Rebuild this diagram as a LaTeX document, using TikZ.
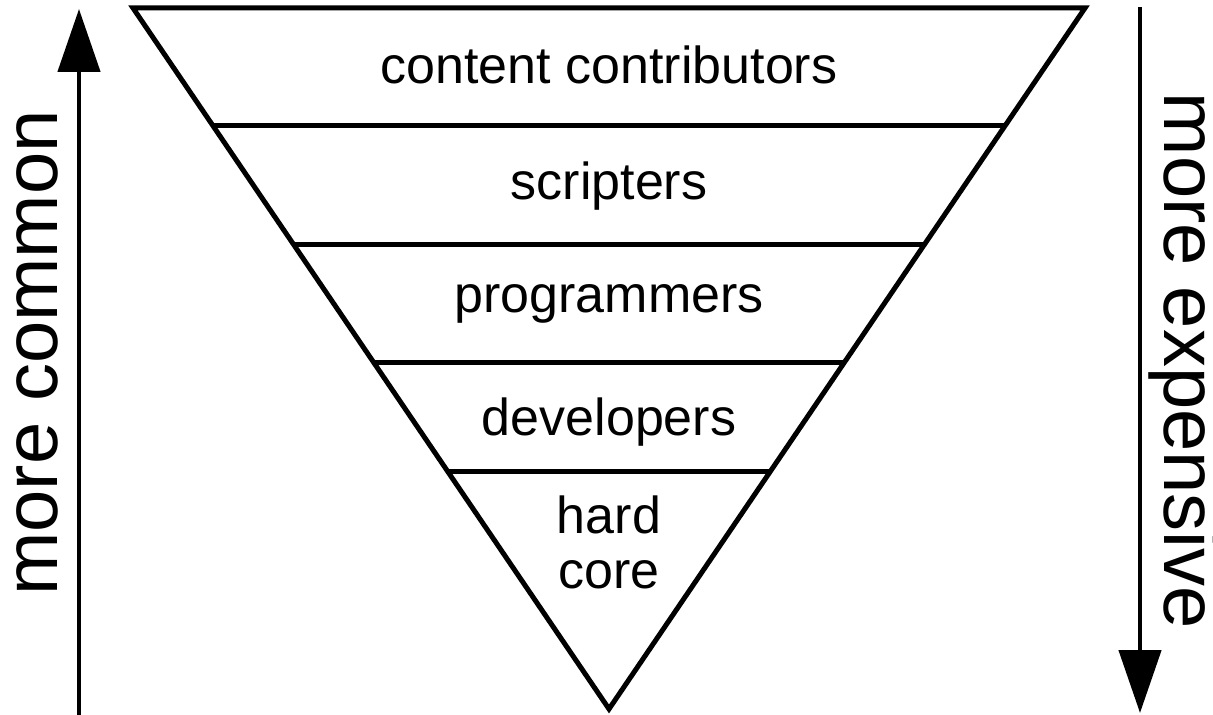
\documentclass[tikz,border=0pt]{standalone}
\usepackage{fontspec}
\setmainfont{Liberation Sans}
\usetikzlibrary{arrows.meta,calc}
\tikzset{
  edge/.style={line width=2.5pt},
  band/.style={font=\fontsize{26}{30}\selectfont, anchor=base, inner sep=0pt},
  side/.style={font=\fontsize{38}{44}\selectfont, inner sep=0pt},
  bigarrow/.style={line width=2.3pt, -{Triangle[length=31.5pt,width=21pt]}}
}
\begin{document}
\begin{tikzpicture}[x=0.5pt,y=-0.5pt]
\useasboundingbox (0,0) rectangle (1213,715);
\coordinate (tl) at (133,8);
\coordinate (tr) at (1085,8);
\coordinate (apex) at (609,709);
\draw[edge, line join=miter] (tl) -- (tr) -- (apex) -- cycle;
\foreach \t [count=\i] in {0.1683,0.3367,0.5050,0.6605}{
  \draw[edge] ($(tl)!\t!(apex)$) -- ($(tr)!\t!(apex)$);
}
\node[band] (c1) at (609,84) {content contributors};
\node[band] (c2) at (609,200) {scripters};
\node[band] (c3) at (609,313) {programmers};
\node[band] (c4) at (609,435) {developers};
\node[band, align=center, font=\fontsize{26}{27.5}\selectfont] (c5) at (609,588) {hard\\core};
% left arrow
\coordinate (la0) at (79,715);
\coordinate (la1) at (79,9);
\draw[bigarrow] (la0) -- (la1);
\node[side, rotate=90, anchor=base] (lt) at (57,353) {more common};
% right arrow
\coordinate (ra0) at (1140,7);
\coordinate (ra1) at (1140,713);
\draw[bigarrow] (ra0) -- (ra1);
\node[side, rotate=-90, anchor=base] (rt) at (1164,361) {more expensive};
\end{tikzpicture}
\end{document}
